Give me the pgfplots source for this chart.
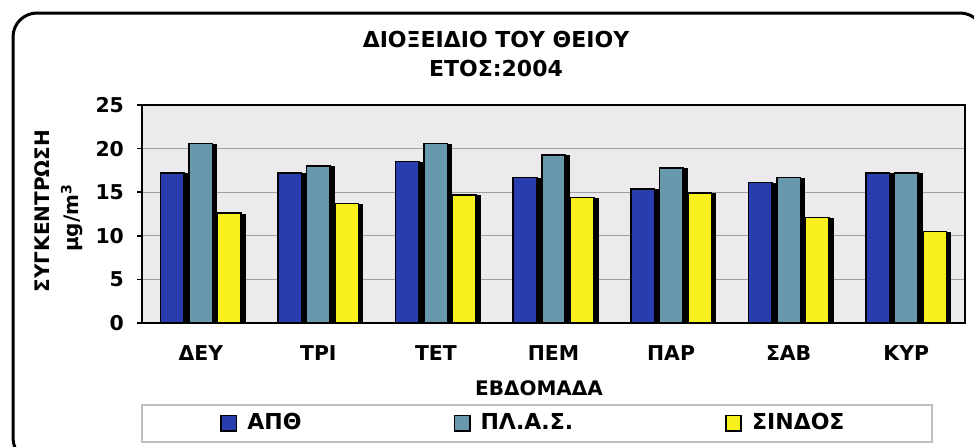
\documentclass[border=0pt]{standalone}
\usepackage{pgfplots}
\pgfplotsset{compat=1.18}
\usepackage{fontspec}
\setmainfont{DejaVu Sans}
\definecolor{cApth}{RGB}{40,62,172}
\definecolor{cPlas}{RGB}{104,152,172}
\definecolor{cSind}{RGB}{248,240,30}
\definecolor{bgm}{RGB}{236,234,237}
\begin{document}
\begin{tikzpicture}[font=\fontsize{10}{12}\selectfont\bfseries]
\useasboundingbox (0pt,0pt) rectangle (487pt,223pt);
\draw[rounded corners=12pt, line width=1.5pt] (6.5pt,-8pt) rectangle (492pt,216.5pt);
\draw[gray!50, line width=1pt] (71pt,2pt) rectangle (466pt,20.5pt);
\node[font=\fontsize{11}{13}\selectfont\bfseries] at (248pt,203.5pt) {ΔΙΟΞΕΙΔΙΟ ΤΟΥ ΘΕΙΟΥ};
\node[font=\fontsize{11}{13}\selectfont\bfseries] at (248pt,189pt) {ΕΤΟΣ:2004};
\node[rotate=90] at (21pt,117.5pt) {ΣΥΓΚΕΝΤΡΩΣΗ};
\node[rotate=90] at (36pt,114pt) {μg/m\textsuperscript{3}};
\node at (269.5pt,29pt) {ΕΒΔΟΜΑΔΑ};
\begin{axis}[
  at={(71pt,61.5pt)}, anchor=south west,
  width=411.5pt, height=109pt, scale only axis,
  ybar=2.5pt, bar width=0.2,
  xmin=-0.5, xmax=6.5, ymin=0, ymax=25,
  ytick={0,5,10,15,20,25},
  ytick pos=left,
  xtick=data,
  xticklabels={ΔΕΥ,ΤΡΙ,ΤΕΤ,ΠΕΜ,ΠΑΡ,ΣΑΒ,ΚΥΡ},
  /pgf/number format/assume math mode=true,
  ticklabel style={font=\fontsize{10.2}{12}\selectfont\bfseries},
  xticklabel style={yshift=-5.5pt},
  yticklabel style={xshift=-3pt},
  tick align=outside, major tick length=2.5pt,
  xtick style={draw=none},
  ytick style={draw=black, line width=0.8pt},
  ymajorgrids, grid style={gray!75, line width=0.6pt},
  axis line style={line width=1.4pt},
  axis background/.style={fill=bgm},
  legend style={at={(0.0948,-0.459)}, anchor=west, inner sep=0pt,
    draw=none, fill=none, legend columns=3,
    font=\fontsize{11}{13}\selectfont\bfseries},
  /tikz/every odd column/.append style={column sep=3pt},
  /tikz/every even column/.append style={column sep=74pt},
  legend image code/.code={\draw[#1] (0pt,-3.8pt) rectangle (7.6pt,3.8pt);},
]
\addlegendimage{fill=cApth, draw=black, line width=0.9pt}
\addlegendimage{fill=cPlas, draw=black, line width=0.9pt}
\addlegendimage{fill=cSind, draw=black, line width=0.9pt}
\addplot[fill=cApth, draw=black, line width=0.8pt,
  preaction={fill=black, transform canvas={shift={(2pt,-0.6pt)}}}]
  coordinates {(0,17.2) (1,17.2) (2,18.5) (3,16.7) (4,15.4) (5,16.1) (6,17.2)};
\addplot[fill=cPlas, draw=black, line width=0.8pt,
  preaction={fill=black, transform canvas={shift={(2pt,-0.6pt)}}}]
  coordinates {(0,20.6) (1,18.0) (2,20.6) (3,19.3) (4,17.8) (5,16.7) (6,17.2)};
\addplot[fill=cSind, draw=black, line width=0.8pt,
  preaction={fill=black, transform canvas={shift={(2pt,-0.6pt)}}}]
  coordinates {(0,12.6) (1,13.7) (2,14.7) (3,14.4) (4,14.9) (5,12.1) (6,10.5)};
\legend{ΑΠΘ,ΠΛ.Α.Σ.,ΣΙΝΔΟΣ}
\end{axis}
\end{tikzpicture}
\end{document}
